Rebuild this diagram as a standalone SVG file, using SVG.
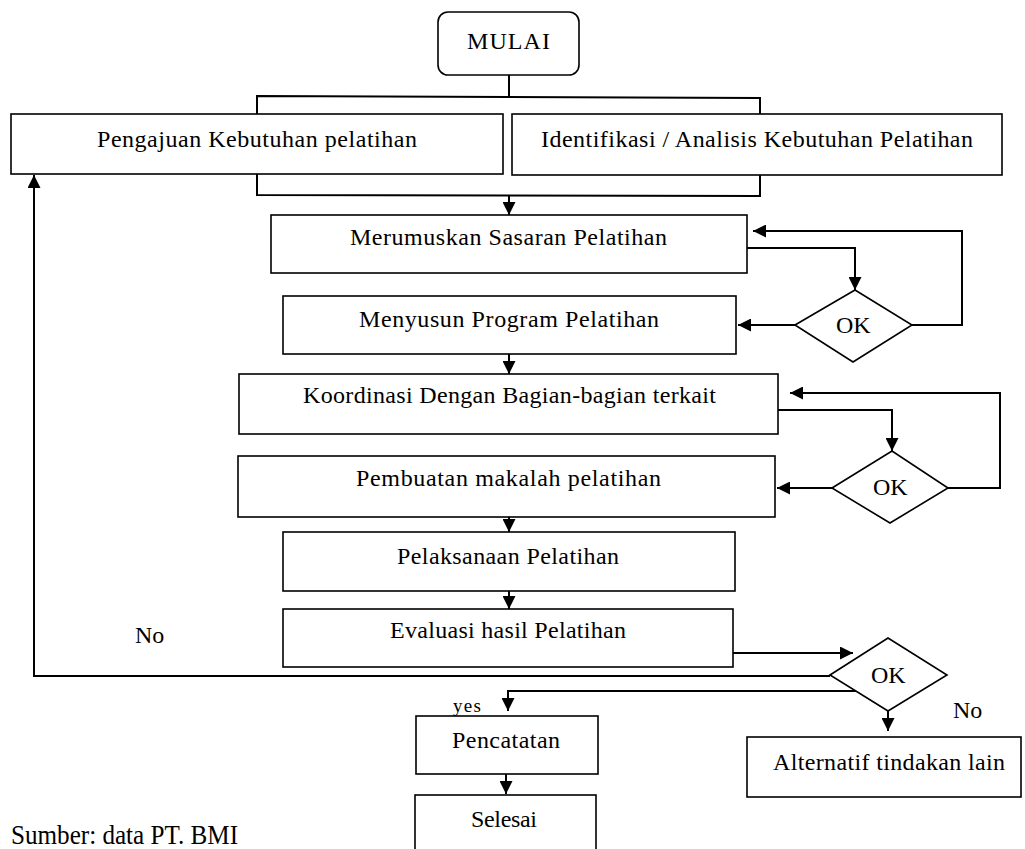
<svg xmlns="http://www.w3.org/2000/svg" width="1025" height="849" viewBox="0 0 1025 849">
<style>
  .box { fill: #fff; stroke: #000; stroke-width: 1.6; }
  .dia { fill: #fff; stroke: #000; stroke-width: 1.6; }
  .con { fill: none; stroke: #000; stroke-width: 2; }
  .t { font-family: "Liberation Serif", "Times New Roman", serif; font-size: 24px; fill: #000; }
  .s { font-family: "Liberation Serif", "Times New Roman", serif; font-size: 19px; fill: #000; }
  .src { font-family: "Liberation Serif", "Times New Roman", serif; font-size: 28px; fill: #000; }
</style>
<defs>
  <marker id="ah" viewBox="0 0 13 13" refX="13" refY="6.5" markerWidth="13" markerHeight="13" markerUnits="userSpaceOnUse" orient="auto">
    <path d="M0,0 L13,6.5 L0,13 z" fill="#000"/>
  </marker>
</defs>
<rect width="1025" height="849" fill="#fff"/>

<g id="connectors">
  <line class="con" x1="509" y1="75" x2="509" y2="97"/>
  <polyline class="con" points="257,114 257,96 760,98 760,114"/>
  <polyline class="con" points="257,174 257,195 760,196 760,175"/>
  <line class="con" x1="509" y1="195" x2="509" y2="215" marker-end="url(#ah)"/>
  <polyline class="con" points="747,248 855,248 855,290" marker-end="url(#ah)"/>
  <line class="con" x1="795" y1="325" x2="738" y2="325" marker-end="url(#ah)"/>
  <polyline class="con" points="912,325 962,325 962,231 753,231" marker-end="url(#ah)"/>
  <line class="con" x1="509" y1="354" x2="509" y2="374" marker-end="url(#ah)"/>
  <polyline class="con" points="778,410 892,410 892,451" marker-end="url(#ah)"/>
  <line class="con" x1="832" y1="488" x2="777" y2="488" marker-end="url(#ah)"/>
  <polyline class="con" points="948,488 1000,488 1000,393 790,393" marker-end="url(#ah)"/>
  <line class="con" x1="509" y1="517" x2="509" y2="532" marker-end="url(#ah)"/>
  <line class="con" x1="509" y1="591" x2="509" y2="609" marker-end="url(#ah)"/>
  <line class="con" x1="733" y1="653" x2="853" y2="653" marker-end="url(#ah)"/>
  <polyline class="con" points="830,676 34,676 34,175" marker-end="url(#ah)"/>
  <polyline class="con" points="857,691 508,691 508,711" marker-end="url(#ah)"/>
  <line class="con" x1="888" y1="711" x2="888" y2="731" marker-end="url(#ah)"/>
  <line class="con" x1="506" y1="774" x2="506" y2="794" marker-end="url(#ah)"/>
</g>

<g id="mulai">
  <rect class="box" x="438" y="12" width="141" height="63" rx="10"/>
  <text class="t" x="467" y="49" textLength="83">MULAI</text>
</g>
<g id="pengajuan">
  <rect class="box" x="11" y="114" width="492" height="60"/>
  <text class="t" x="97" y="147" textLength="320">Pengajuan Kebutuhan pelatihan</text>
</g>
<g id="identifikasi">
  <rect class="box" x="512" y="114" width="490" height="61"/>
  <text class="t" x="541" y="147" textLength="432">Identifikasi / Analisis Kebutuhan Pelatihan</text>
</g>
<g id="merumuskan">
  <rect class="box" x="271" y="215" width="476" height="58"/>
  <text class="t" x="350" y="245" textLength="317">Merumuskan Sasaran Pelatihan</text>
</g>
<g id="ok1">
  <polygon class="dia" points="795,325 855,290 912,325 853,362"/>
  <text class="t" x="836" y="333">OK</text>
</g>
<g id="menyusun">
  <rect class="box" x="283" y="296" width="453" height="58"/>
  <text class="t" x="359" y="327" textLength="300">Menyusun Program Pelatihan</text>
</g>
<g id="koordinasi">
  <rect class="box" x="239" y="374" width="539" height="60"/>
  <text class="t" x="303" y="403" textLength="413">Koordinasi Dengan Bagian-bagian terkait</text>
</g>
<g id="ok2">
  <polygon class="dia" points="832,488 892,451 948,488 890,523"/>
  <text class="t" x="873" y="495">OK</text>
</g>
<g id="pembuatan">
  <rect class="box" x="238" y="456" width="537" height="61"/>
  <text class="t" x="356" y="486" textLength="305">Pembuatan makalah pelatihan</text>
</g>
<g id="pelaksanaan">
  <rect class="box" x="283" y="532" width="452" height="59"/>
  <text class="t" x="397" y="564" textLength="222">Pelaksanaan Pelatihan</text>
</g>
<g id="evaluasi">
  <rect class="box" x="283" y="609" width="450" height="58"/>
  <text class="t" x="390" y="638" textLength="236">Evaluasi hasil Pelatihan</text>
</g>
<g id="ok3">
  <polygon class="dia" points="830,675 888,638 947,675 888,711"/>
  <text class="t" x="871" y="683">OK</text>
</g>
<g id="pencatatan">
  <rect class="box" x="416" y="716" width="182" height="58"/>
  <text class="t" x="452" y="748" textLength="108">Pencatatan</text>
</g>
<g id="selesai">
  <rect class="box" x="415" y="795" width="181" height="70"/>
  <text class="t" x="471" y="827" textLength="66">Selesai</text>
</g>
<g id="alternatif">
  <rect class="box" x="747" y="737" width="274" height="60"/>
  <text class="t" x="773" y="770" textLength="232">Alternatif tindakan lain</text>
</g>
<g id="labels">
  <text class="t" x="135" y="643">No</text>
  <text class="s" x="453" y="712" textLength="28">yes</text>
  <text class="t" x="953" y="718">No</text>
  <text class="src" x="11" y="844" textLength="227" lengthAdjust="spacingAndGlyphs">Sumber: data PT. BMI</text>
</g>
</svg>
